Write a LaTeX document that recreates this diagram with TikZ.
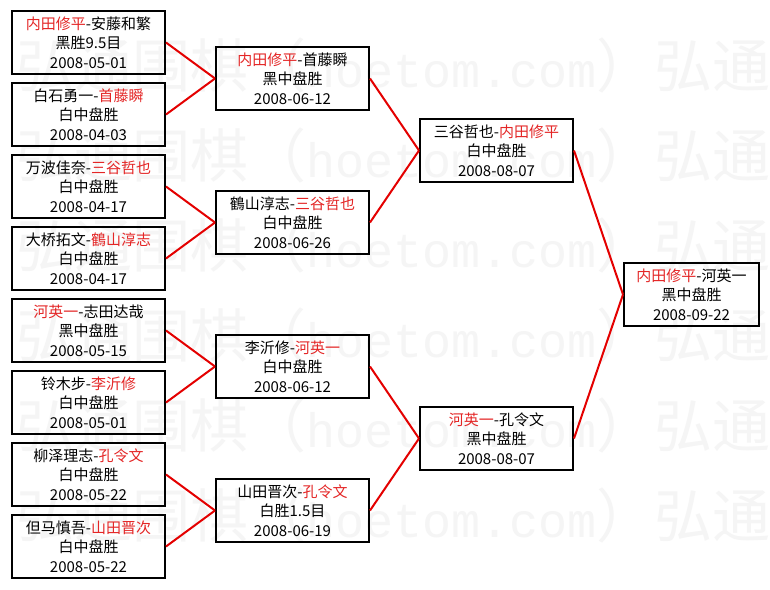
\documentclass[tikz,border=0pt]{standalone}
\usepackage{fontspec}
\setmainfont{Noto Sans CJK SC}
\newfontfamily\wmcjkfont{Noto Sans CJK SC}
\newfontfamily\wmlatfont{Liberation Mono}
\definecolor{txtred}{RGB}{228,38,38}
\definecolor{linered}{RGB}{228,0,0}
\definecolor{wmgray}{RGB}{245,245,245}
\newcommand\rd[1]{\textcolor{txtred}{#1}}
\newcommand\wmc[1]{{\wmcjkfont\fontsize{58pt}{58pt}\selectfont #1}}
\newcommand\wml[1]{{\wmlatfont\fontsize{48.33pt}{58pt}\selectfont #1}}
\newcommand\wmrow{\wmc{弘通围棋（}\wml{hoetom.com}\wmc{）弘通}}
\tikzset{
  game/.style={draw=black, line width=2pt, minimum width=153pt, minimum height=63pt,
    inner sep=0pt, align=center, font=\fontsize{15pt}{19.5pt}\selectfont},
  finalgame/.style={game, minimum width=135pt},
  link/.style={draw=linered, line width=2pt},
  wm/.style={anchor=base west, inner sep=0pt, text=wmgray}
}
\begin{document}
\begin{tikzpicture}[x=1pt, y=-1pt]
\useasboundingbox (0,0) rectangle (770,589);
\fill[white] (0,0) rectangle (770,589);
\begin{scope}
\clip (0,0) rectangle (770,589);
\node[wm] (wm1) at (16,87) {\wmrow};
\node[wm] (wm2) at (16,177) {\wmrow};
\node[wm] (wm3) at (16,267) {\wmrow};
\node[wm] (wm4) at (16,357) {\wmrow};
\node[wm] (wm5) at (16,447) {\wmrow};
\node[wm] (wm6) at (16,537) {\wmrow};
\end{scope}
% round 1
\node[game] (a1) at (88.5,42.5)  {\rd{内田修平}-安藤和繁\\黑胜9.5目\\2008-05-01};
\node[game] (a2) at (88.5,114.5) {白石勇一-\rd{首藤瞬}\\白中盘胜\\2008-04-03};
\node[game] (a3) at (88.5,186.5) {万波佳奈-\rd{三谷哲也}\\白中盘胜\\2008-04-17};
\node[game] (a4) at (88.5,258.5) {大桥拓文-\rd{鶴山淳志}\\白中盘胜\\2008-04-17};
\node[game] (a5) at (88.5,330.5) {\rd{河英一}-志田达哉\\黑中盘胜\\2008-05-15};
\node[game] (a6) at (88.5,402.5) {铃木步-\rd{李沂修}\\白中盘胜\\2008-05-01};
\node[game] (a7) at (88.5,474.5) {柳泽理志-\rd{孔令文}\\白中盘胜\\2008-05-22};
\node[game] (a8) at (88.5,546.5) {但马慎吾-\rd{山田晋次}\\白中盘胜\\2008-05-22};
% round 2
\node[game] (b1) at (292.5,78.5)  {\rd{内田修平}-首藤瞬\\黑中盘胜\\2008-06-12};
\node[game] (b2) at (292.5,222.5) {鶴山淳志-\rd{三谷哲也}\\白中盘胜\\2008-06-26};
\node[game] (b3) at (292.5,366.5) {李沂修-\rd{河英一}\\白中盘胜\\2008-06-12};
\node[game] (b4) at (292.5,510.5) {山田晋次-\rd{孔令文}\\白胜1.5目\\2008-06-19};
% round 3
\node[game] (c1) at (496.5,150.5) {三谷哲也-\rd{内田修平}\\白中盘胜\\2008-08-07};
\node[game] (c2) at (496.5,438.5) {\rd{河英一}-孔令文\\黑中盘胜\\2008-08-07};
% final
\node[finalgame] (d1) at (691.5,294.5) {\rd{内田修平}-河英一\\黑中盘胜\\2008-09-22};
% connectors
\draw[link] (a1.east) -- (b1.west);
\draw[link] (a2.east) -- (b1.west);
\draw[link] (a3.east) -- (b2.west);
\draw[link] (a4.east) -- (b2.west);
\draw[link] (a5.east) -- (b3.west);
\draw[link] (a6.east) -- (b3.west);
\draw[link] (a7.east) -- (b4.west);
\draw[link] (a8.east) -- (b4.west);
\draw[link] (b1.east) -- (c1.west);
\draw[link] (b2.east) -- (c1.west);
\draw[link] (b3.east) -- (c2.west);
\draw[link] (b4.east) -- (c2.west);
\draw[link] (c1.east) -- (d1.west);
\draw[link] (c2.east) -- (d1.west);
\end{tikzpicture}
\end{document}
